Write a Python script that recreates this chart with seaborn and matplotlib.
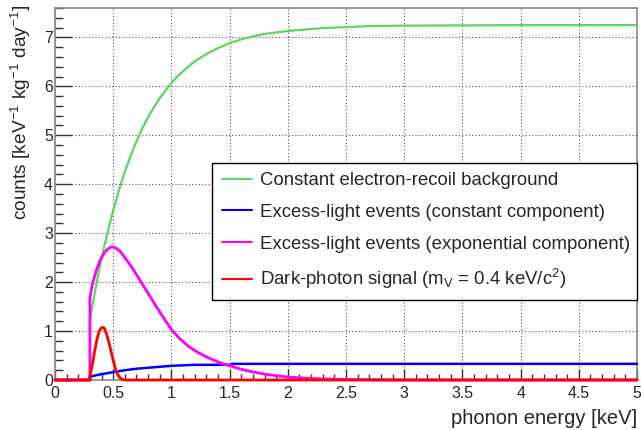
import numpy as np
import pandas as pd
import matplotlib
matplotlib.use("Agg")
import matplotlib.pyplot as plt
from matplotlib.ticker import MultipleLocator, FormatStrFormatter
import seaborn as sns

# Constant electron-recoil background (green)
green_x = [0.0, 0.3, 0.3, 0.32, 0.34, 0.37, 0.4, 0.42, 0.45, 0.47, 0.5, 0.55, 0.6,
           0.65, 0.7, 0.75, 0.8, 0.85, 0.9, 0.95, 1.0, 1.05, 1.1, 1.2, 1.3, 1.4,
           1.5, 1.6, 1.7, 1.8, 2.0, 2.3, 2.5, 2.7, 3.0, 4.0, 5.0]
green_y = [0.0, 0.0, 1.23, 1.50, 1.76, 2.14, 2.48, 2.70, 3.00, 3.19, 3.47, 3.88, 4.26,
           4.58, 4.88, 5.14, 5.37, 5.57, 5.76, 5.92, 6.07, 6.20, 6.31, 6.51, 6.66, 6.78,
           6.88, 6.96, 7.02, 7.07, 7.13, 7.19, 7.21, 7.23, 7.24, 7.25, 7.25]

# Excess-light events, constant component (blue)
blue_x = [0.0, 0.3, 0.3, 0.4, 0.5, 0.6, 0.7, 0.8, 0.9, 1.0, 1.2, 1.52, 1.52, 5.0]
blue_y = [0.0, 0.0, 0.07, 0.12, 0.16, 0.20, 0.23, 0.25, 0.27, 0.29, 0.31, 0.31, 0.33, 0.33]

# Excess-light events, exponential component (magenta)
magenta_x = [0.0, 0.3, 0.3, 0.32, 0.34, 0.36, 0.39, 0.43, 0.46, 0.49, 0.52, 0.56,
             0.6, 0.65, 0.7, 0.73, 0.8, 0.87, 0.93, 1.0, 1.07, 1.15, 1.23, 1.32,
             1.41, 1.5, 1.6, 1.7, 1.8, 1.9, 2.0, 2.15, 2.3, 2.5, 2.75, 3.0, 5.0]
magenta_y = [0.0, 0.0, 1.67, 1.95, 2.12, 2.28, 2.46, 2.62, 2.69, 2.72, 2.70, 2.63,
             2.50, 2.34, 2.15, 2.04, 1.77, 1.50, 1.28, 1.03, 0.85, 0.68, 0.56, 0.45,
             0.36, 0.29, 0.22, 0.165, 0.12, 0.088, 0.062, 0.037, 0.022, 0.011, 0.004, 0.0, 0.0]

# Dark-photon signal (red)
red_x = [0.0, 0.3, 0.3, 0.32, 0.34, 0.36, 0.38, 0.40, 0.42, 0.44, 0.46, 0.48,
         0.50, 0.52, 0.54, 0.56, 0.58, 0.6, 5.0]
red_y = [0.0, 0.0, 0.08, 0.30, 0.58, 0.83, 1.00, 1.07, 1.07, 0.96, 0.80, 0.60,
         0.40, 0.22, 0.10, 0.04, 0.01, 0.0, 0.0]

labels = ["Constant electron-recoil background",
          "Excess-light events (constant component)",
          "Excess-light events (exponential component)",
          "Dark-photon signal (m$_V$ = 0.4 keV/c$^2$)"]
colors = ["#5cd65c", "#0000ff", "#ff00ff", "#ff0000"]

sns.set_style("white")
plt.rcParams["font.family"] = ["Liberation Sans", "DejaVu Sans"]
plt.rcParams["mathtext.fontset"] = "custom"
plt.rcParams["mathtext.rm"] = "Liberation Sans"
plt.rcParams["mathtext.it"] = "Liberation Sans"
plt.rcParams["mathtext.default"] = "regular"

fig = plt.figure(figsize=(6.41, 4.30), dpi=100)
ax = fig.add_axes([55 / 641, 50 / 430, 582 / 641, 372 / 430])

series = [(green_x, green_y), (blue_x, blue_y), (magenta_x, magenta_y), (red_x, red_y)]
widths = [1.6, 1.8, 2.0, 2.0]
for (xs, ys), lab, col, lw in zip(series, labels, colors, widths):
    df = pd.DataFrame({"x": xs, "y": ys})
    sns.lineplot(data=df, x="x", y="y", ax=ax, estimator=None, sort=False,
                 color=col, linewidth=lw, label=lab, zorder=3, clip_on=False)

ax.set_xlim(0, 5)
ax.set_ylim(0, 7.6)
ax.xaxis.set_major_locator(MultipleLocator(0.5))
ax.xaxis.set_minor_locator(MultipleLocator(0.1))
ax.yaxis.set_major_locator(MultipleLocator(1))
ax.yaxis.set_minor_locator(MultipleLocator(0.2))
ax.xaxis.set_major_formatter(FormatStrFormatter("%g"))
ax.yaxis.set_major_formatter(FormatStrFormatter("%g"))

# ROOT-like ticks: inside, left and bottom only
ax.tick_params(axis="x", which="major", direction="in", length=8, width=1,
               labelsize=11.4, pad=4.5, color="#333333")
ax.tick_params(axis="x", which="minor", direction="in", length=4, width=1, color="#333333")
ax.tick_params(axis="y", which="major", direction="in", length=12, width=1,
               labelsize=11.4, pad=1.5, color="#333333")
ax.tick_params(axis="y", which="minor", direction="in", length=6, width=1, color="#333333")
ax.tick_params(which="both", bottom=True, left=True, top=False, right=False)

ax.grid(True, which="major", color="#555555", linestyle=(0, (1, 2)), linewidth=0.8)
for sp in ax.spines.values():
    sp.set_color("#888888")
    sp.set_linewidth(1.2)

ax.set_xlabel("phonon energy [keV]", fontsize=14.5, loc="right")
ax.xaxis.set_label_coords(1.0, -0.078)
ax.set_ylabel("counts [keV$^{-1}$ kg$^{-1}$ day$^{-1}$]", fontsize=13.8, loc="top")
ax.yaxis.set_label_coords(-0.037, 1.01)

leg = ax.legend(loc="upper left", bbox_to_anchor=(0.2706, 0.226, 0.729, 0.357),
                mode="expand", fontsize=13.4, frameon=True, fancybox=False,
                framealpha=1, edgecolor="black", borderpad=0.5, labelspacing=0.78,
                handlelength=1.6, handletextpad=0.45, borderaxespad=0)
leg.get_frame().set_linewidth(1.0)
leg.set_zorder(5)
for line in leg.get_lines():
    line.set_linewidth(1.5)

fig.savefig("out.png", dpi=100)
